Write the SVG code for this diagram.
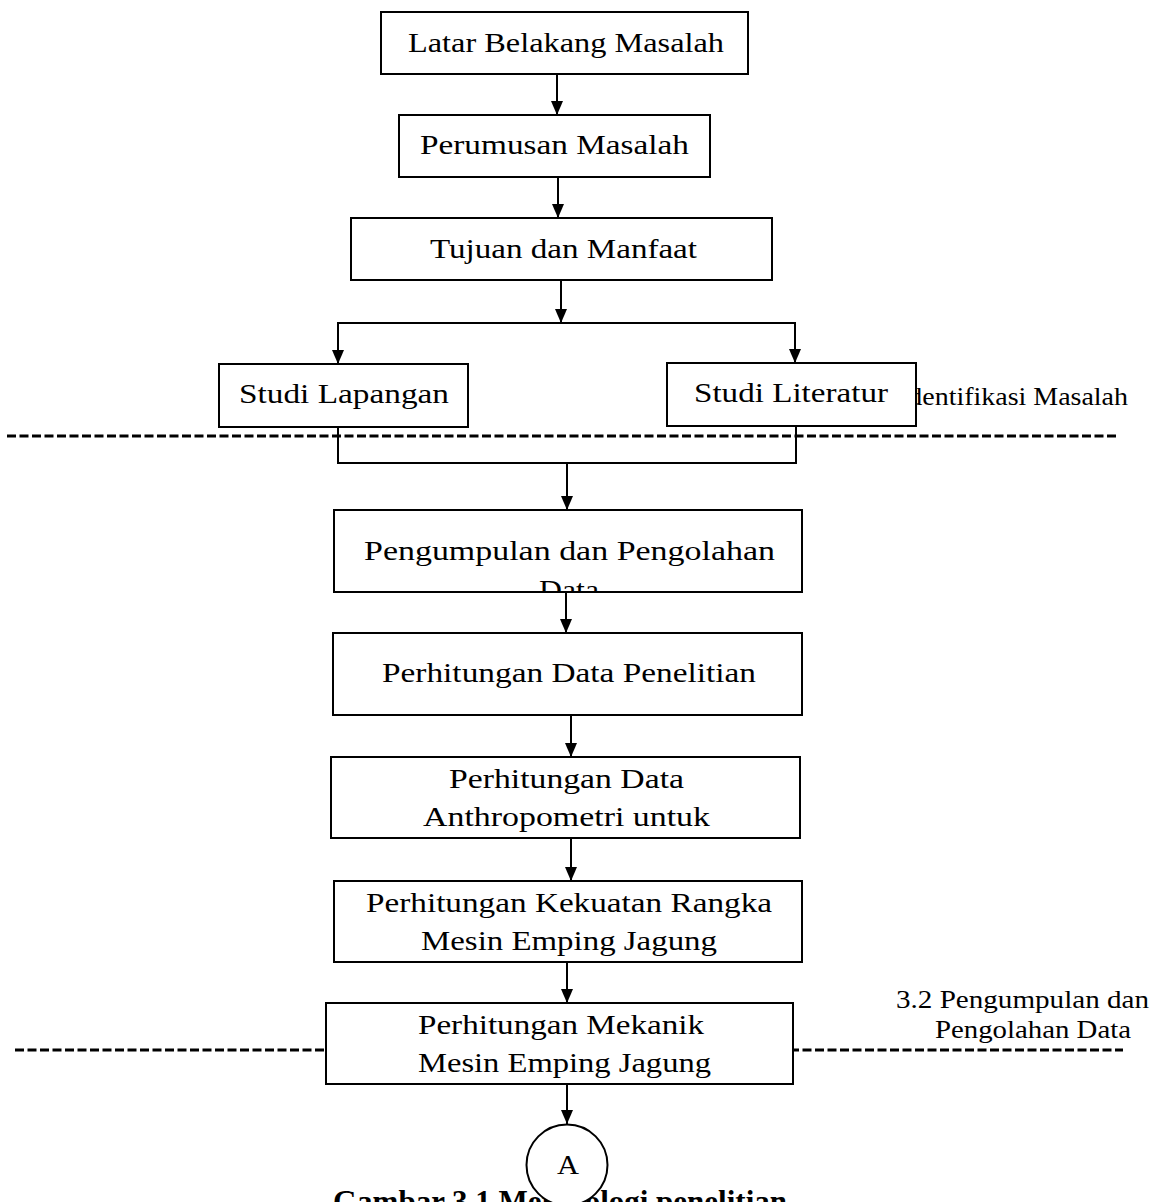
<svg xmlns="http://www.w3.org/2000/svg" width="1158" height="1202" viewBox="0 0 1158 1202">
<style>
.box{fill:#fff;stroke:#000;stroke-width:2}
.t{font-family:"Liberation Serif","Times New Roman",serif;font-size:28px;fill:#000;text-anchor:middle}
.lbl{font-family:"Liberation Serif","Times New Roman",serif;font-size:25px;fill:#000}
.cap{font-family:"Liberation Serif","Times New Roman",serif;font-size:31px;font-weight:bold;fill:#000}
.c{fill:none;stroke:#000;stroke-width:2}
.dash{fill:none;stroke:#000;stroke-width:3;stroke-dasharray:9 3.5}
</style>
<defs>
<marker id="ah" markerUnits="userSpaceOnUse" markerWidth="14" markerHeight="12" refX="14" refY="6" orient="auto">
<path d="M0,0 L14,6 L0,12 z" fill="#000"/>
</marker>
<clipPath id="clip6"><rect x="335" y="511" width="466" height="80"/></clipPath>
</defs>
<rect width="1158" height="1202" fill="#fff"/>

<g id="section-labels">
<text class="lbl" x="899" y="405" textLength="229" lengthAdjust="spacingAndGlyphs">Identifikasi Masalah</text>
<text class="lbl" x="896" y="1008" textLength="253" lengthAdjust="spacingAndGlyphs">3.2 Pengumpulan dan</text>
<text class="lbl" x="935" y="1038" textLength="196" lengthAdjust="spacingAndGlyphs">Pengolahan Data</text>
</g>

<g id="dividers">
<line class="dash" x1="7" y1="436" x2="1116" y2="436"/>
<line class="dash" x1="15" y1="1050" x2="1123" y2="1050"/>
</g>

<g id="caption">
<text class="cap" x="333" y="1212" textLength="454" lengthAdjust="spacingAndGlyphs">Gambar 3.1 Metodologi penelitian</text>
</g>

<g id="connectors">
<line class="c" x1="557" y1="74" x2="557" y2="115" marker-end="url(#ah)"/>
<line class="c" x1="558" y1="177" x2="558" y2="218" marker-end="url(#ah)"/>
<line class="c" x1="561" y1="280" x2="561" y2="323" marker-end="url(#ah)"/>
<polyline class="c" points="338,364 338,323 795,323 795,363"/>
<line class="c" x1="338" y1="323" x2="338" y2="364" marker-end="url(#ah)"/>
<line class="c" x1="795" y1="323" x2="795" y2="363" marker-end="url(#ah)"/>
<polyline class="c" points="338,427 338,463 796,463 796,424"/>
<line class="c" x1="567" y1="463" x2="567" y2="510" marker-end="url(#ah)"/>
<line class="c" x1="566" y1="592" x2="566" y2="633" marker-end="url(#ah)"/>
<line class="c" x1="571" y1="715" x2="571" y2="757" marker-end="url(#ah)"/>
<line class="c" x1="571" y1="838" x2="571" y2="881" marker-end="url(#ah)"/>
<line class="c" x1="567" y1="962" x2="567" y2="1003" marker-end="url(#ah)"/>
<line class="c" x1="567" y1="1084" x2="567" y2="1124" marker-end="url(#ah)"/>
</g>

<g id="n1">
<rect class="box" x="381" y="12" width="367" height="62"/>
<text class="t" x="566" y="52" textLength="316" lengthAdjust="spacingAndGlyphs">Latar Belakang Masalah</text>
</g>
<g id="n2">
<rect class="box" x="399" y="115" width="311" height="62"/>
<text class="t" x="554.5" y="154" textLength="269" lengthAdjust="spacingAndGlyphs">Perumusan Masalah</text>
</g>
<g id="n3">
<rect class="box" x="351" y="218" width="421" height="62"/>
<text class="t" x="563.5" y="258" textLength="267" lengthAdjust="spacingAndGlyphs">Tujuan dan Manfaat</text>
</g>
<g id="n4">
<rect class="box" x="219" y="364" width="249" height="63"/>
<text class="t" x="344" y="403" textLength="210" lengthAdjust="spacingAndGlyphs">Studi Lapangan</text>
</g>
<g id="n5">
<rect class="box" x="667" y="363" width="249" height="63"/>
<text class="t" x="791" y="402" textLength="194" lengthAdjust="spacingAndGlyphs">Studi Literatur</text>
</g>
<g id="n6">
<rect class="box" x="334" y="510" width="468" height="82"/>
<g clip-path="url(#clip6)">
<text class="t" x="569.5" y="560" textLength="411" lengthAdjust="spacingAndGlyphs">Pengumpulan dan Pengolahan</text>
<text class="t" x="569" y="599" textLength="60" lengthAdjust="spacingAndGlyphs">Data</text>
</g>
</g>
<g id="n7">
<rect class="box" x="333" y="633" width="469" height="82"/>
<text class="t" x="569" y="682" textLength="374" lengthAdjust="spacingAndGlyphs">Perhitungan Data Penelitian</text>
</g>
<g id="n8">
<rect class="box" x="331" y="757" width="469" height="81"/>
<text class="t" x="566.5" y="788" textLength="235" lengthAdjust="spacingAndGlyphs">Perhitungan Data</text>
<text class="t" x="566.5" y="826" textLength="287" lengthAdjust="spacingAndGlyphs">Anthropometri untuk</text>
</g>
<g id="n9">
<rect class="box" x="334" y="881" width="468" height="81"/>
<text class="t" x="569" y="912" textLength="406" lengthAdjust="spacingAndGlyphs">Perhitungan Kekuatan Rangka</text>
<text class="t" x="569" y="950" textLength="296" lengthAdjust="spacingAndGlyphs">Mesin Emping Jagung</text>
</g>
<g id="n10">
<rect class="box" x="326" y="1003" width="467" height="81"/>
<text class="t" x="561" y="1034" textLength="286" lengthAdjust="spacingAndGlyphs">Perhitungan Mekanik</text>
<text class="t" x="564.5" y="1072" textLength="293" lengthAdjust="spacingAndGlyphs">Mesin Emping Jagung</text>
</g>
<g id="nA">
<circle class="box" cx="567" cy="1165" r="40.5"/>
<text class="t" x="568" y="1174" textLength="22" lengthAdjust="spacingAndGlyphs">A</text>
</g>
</svg>
